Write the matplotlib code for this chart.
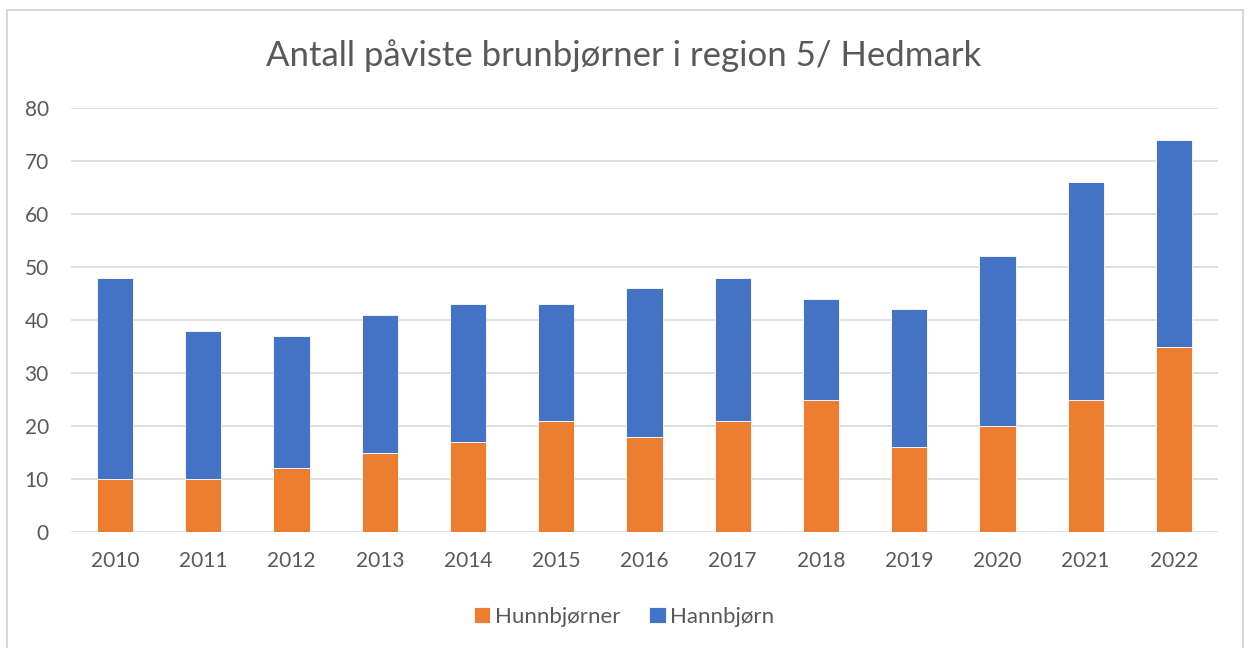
import matplotlib.pyplot as plt
from matplotlib.patches import Rectangle
import numpy as np

years = ["2010", "2011", "2012", "2013", "2014", "2015", "2016",
         "2017", "2018", "2019", "2020", "2021", "2022"]
hunn = [10, 10, 12, 15, 17, 21, 18, 21, 25, 16, 20, 25, 35]
totals = [48, 38, 37, 41, 43, 43, 46, 48, 44, 42, 52, 66, 74]
hann = [t - h for t, h in zip(totals, hunn)]

text_col = "#595959"
plt.rcParams['font.family'] = ['Lato', 'DejaVu Sans']

fig = plt.figure(figsize=(12.48, 6.48), dpi=100)
# chart frame like the Excel chart area
fig.patches.append(Rectangle((7 / 1248, -0.01), 1236 / 1248, 1 - 10 / 648 + 0.01,
                             transform=fig.transFigure, fill=False,
                             edgecolor="#D9D9D9", linewidth=1.5))

ax = fig.add_axes([71 / 1248, 116 / 648, 1147 / 1248, 424 / 648])
x = np.arange(len(years))
w = 0.41
ax.bar(x, hunn, w, color="#ED7D31", edgecolor="white", linewidth=0.6,
       label="Hunnbjørner", zorder=3)
ax.bar(x, hann, w, bottom=hunn, color="#4472C4", edgecolor="white",
       linewidth=0.6, label="Hannbjørn", zorder=3)

ax.set_xlim(-0.5, len(years) - 0.5)
ax.set_ylim(0, 80)
ax.set_yticks(range(0, 81, 10))
ax.set_xticks(x)
ax.set_xticklabels(years)
ax.grid(axis="y", color="#D9D9D9", linewidth=1.2, zorder=0)
for s in ax.spines.values():
    s.set_visible(False)
ax.tick_params(length=0, labelsize=15, labelcolor=text_col)
ax.tick_params(axis="x", pad=14)
ax.tick_params(axis="y", pad=16)

fig.text(0.5, 1 - 56 / 648, "Antall påviste brunbjørner i region 5/ Hedmark",
         ha="center", va="center", fontsize=25, color=text_col)

fig.legend(loc="center", bbox_to_anchor=(0.5, 1 - 617 / 648), ncol=2,
           frameon=False, fontsize=16, labelcolor=text_col,
           handlelength=0.75, handleheight=0.75, handletextpad=0.2,
           columnspacing=1.3)

fig.savefig("out.png", dpi=100)
